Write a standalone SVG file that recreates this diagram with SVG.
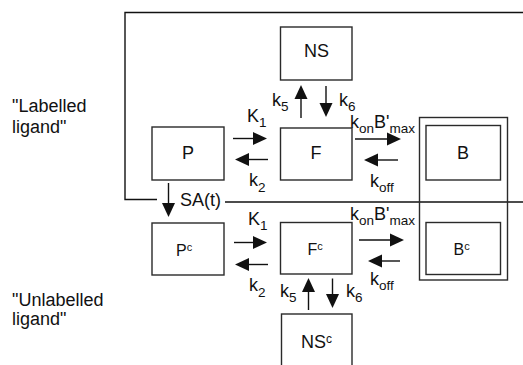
<svg xmlns="http://www.w3.org/2000/svg" width="523" height="365" viewBox="0 0 523 365">
<style>
.box{fill:#fff;stroke:#2a2a2a;stroke-width:1.4}
.frame{fill:none;stroke:#2a2a2a;stroke-width:1.4}
.ln{fill:none;stroke:#111;stroke-width:1.4}
.ar{fill:none;stroke:#111;stroke-width:1.4;marker-end:url(#ah)}
text{font-family:"Liberation Sans",Arial,Helvetica,sans-serif;fill:#111}
.t18{font-size:18px}
.t16{font-size:16px}
.s{font-size:13.5px}
.sup{font-size:11px}
.sup12{font-size:12px}
.mid{text-anchor:middle}
</style>
<defs>
<marker id="ah" markerUnits="userSpaceOnUse" markerWidth="14" markerHeight="13" viewBox="-10 -6.5 14 13" refX="0" refY="0" orient="auto" overflow="visible">
<path d="M-10,-6.5 L4,0 L-10,6.5 Z" fill="#111"/>
</marker>
</defs>
<rect width="523" height="365" fill="#fff"/>

<g id="labels-left">
<text class="t18" x="12" y="112">"Labelled</text>
<text class="t18" x="12" y="133">ligand"</text>
<text class="t18" x="12" y="306">"Unlabelled</text>
<text class="t18" x="12" y="325">ligand"</text>
</g>

<g id="connectors">
<path class="ln" d="M523,12.5 H125 V199.5 H157"/>
<path class="ln" d="M225,202 H523"/>
<line class="ar" x1="168.5" y1="183" x2="168.5" y2="213"/>
<line class="ar" x1="233" y1="138.5" x2="263" y2="138.5"/>
<line class="ar" x1="268" y1="159.5" x2="239" y2="159.5"/>
<line class="ar" x1="301" y1="118" x2="301" y2="89"/>
<line class="ar" x1="326" y1="86" x2="326" y2="113"/>
<line class="ar" x1="355" y1="139" x2="397" y2="139"/>
<line class="ar" x1="398" y1="160" x2="368" y2="160"/>
<line class="ar" x1="234" y1="242.5" x2="263" y2="242.5"/>
<line class="ar" x1="268" y1="264.5" x2="239" y2="264.5"/>
<line class="ar" x1="308.5" y1="310" x2="308.5" y2="282"/>
<line class="ar" x1="332.5" y1="278.5" x2="332.5" y2="304"/>
<line class="ar" x1="359" y1="240" x2="400" y2="240"/>
<line class="ar" x1="400" y1="261" x2="372" y2="261"/>
</g>

<g id="rate-labels">
<text class="t18" x="272" y="106">k<tspan class="s" dy="5">5</tspan></text>
<text class="t18" x="339" y="106">k<tspan class="s" dy="5">6</tspan></text>
<text class="t18" x="247" y="122">K<tspan class="s" dy="5">1</tspan></text>
<text class="t18" x="249" y="186">k<tspan class="s" dy="6">2</tspan></text>
<text class="t18" x="350" y="128">k<tspan class="s" dy="5">on</tspan><tspan dy="-5">B'</tspan><tspan class="s" dy="5">max</tspan></text>
<text class="t18" x="370" y="186.5">k<tspan class="s" dy="5">off</tspan></text>
<text class="t18" x="180" y="206">SA(t)</text>
<text class="t18" x="248" y="225">K<tspan class="s" dy="5">1</tspan></text>
<text class="t18" x="249" y="291">k<tspan class="s" dy="6">2</tspan></text>
<text class="t18" x="280" y="297">k<tspan class="s" dy="5">5</tspan></text>
<text class="t18" x="346" y="297">k<tspan class="s" dy="5">6</tspan></text>
<text class="t18" x="350" y="220">k<tspan class="s" dy="5">on</tspan><tspan dy="-5">B'</tspan><tspan class="s" dy="5">max</tspan></text>
<text class="t18" x="370" y="285">k<tspan class="s" dy="5">off</tspan></text>
</g>

<g id="node-NS">
<rect class="box" x="280.5" y="27" width="71.5" height="53"/>
<text class="t18 mid" x="316.5" y="57">NS</text>
</g>
<g id="node-P">
<rect class="box" x="152" y="127" width="72" height="53"/>
<text class="t18 mid" x="188" y="159">P</text>
</g>
<g id="node-F">
<rect class="box" x="280.5" y="128" width="71.5" height="52"/>
<text class="t18 mid" x="316" y="159">F</text>
</g>
<g id="node-B-compartment">
<rect class="frame" x="419.5" y="117.5" width="88" height="162.5"/>
</g>
<g id="node-B">
<rect class="box" x="426" y="125.5" width="74.5" height="54.5"/>
<text class="t18 mid" x="463" y="159">B</text>
</g>
<g id="node-Pc">
<rect class="box" x="152" y="223" width="72" height="52"/>
<text class="t16" x="176" y="256">P<tspan class="sup" dy="-5">c</tspan></text>
</g>
<g id="node-Fc">
<rect class="box" x="280.5" y="222.5" width="71.5" height="51.5"/>
<text class="t16" x="307.5" y="255">F<tspan class="sup" dy="-5.5">c</tspan></text>
</g>
<g id="node-Bc">
<rect class="box" x="426" y="222.5" width="74.5" height="52"/>
<text class="t16" x="453.5" y="254.5">B<tspan class="sup" dy="-4.5">c</tspan></text>
</g>
<g id="node-NSc">
<rect class="box" x="281.5" y="314" width="70.5" height="60"/>
<text class="t18" x="301" y="348">NS<tspan class="sup12" dy="-5.5">c</tspan></text>
</g>
</svg>
